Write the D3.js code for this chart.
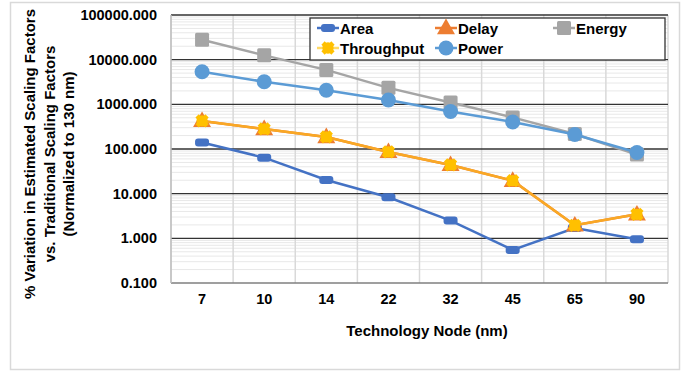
<!DOCTYPE html>
<html><head><meta charset="utf-8">
<script src="https://cdn.jsdelivr.net/npm/d3@7"></script>
<style>body{margin:0;background:#fff}svg{display:block;font-family:"Liberation Sans",Arial,sans-serif}</style>
</head><body><svg id="c" width="694" height="372"></svg>
<script>
const categories = ["7","10","14","22","32","45","65","90"];
const area       = [140, 64, 20.2, 8.3, 2.5, 0.55, 1.7, 0.95];
const delay      = [425, 281, 186, 86, 44, 19.5, 1.96, 3.45];
const energy     = [28000, 12500, 5900, 2340, 1100, 510, 217, 75];
const throughput = [425, 281, 186, 86, 44, 19.5, 1.96, 3.45];
const power      = [5350, 3200, 2060, 1250, 690, 403, 211, 83.5];
const yTicks     = [0.1, 1, 10, 100, 1000, 10000, 100000];

const svg = d3.select("#c");
const m = {l:171, r:668, t:15, b:283};
const x = d3.scaleBand().domain(categories).range([m.l, m.r]);
const y = d3.scaleLog().domain([0.1, 100000]).range([m.b, m.t]);

// outer frame
svg.append("rect").attr("x",10.5).attr("y",2.5).attr("width",669).attr("height",367)
  .attr("fill","none").attr("stroke","#d9d9d9").attr("stroke-width",1.5);

// minor gridlines
const minors = [];
for (let e=-1;e<5;e++) for (let k=2;k<10;k++) minors.push(k*Math.pow(10,e));
svg.append("g").selectAll("line").data(minors).join("line")
  .attr("x1",m.l).attr("x2",m.r).attr("y1",d=>y(d)).attr("y2",d=>y(d))
  .attr("stroke","#e8e8e8").attr("stroke-width",1);

// vertical gridlines
const vx = categories.map(c=>x(c)).concat([m.r]);
svg.append("g").selectAll("line").data(vx).join("line")
  .attr("x1",d=>d).attr("x2",d=>d).attr("y1",m.t).attr("y2",m.b)
  .attr("stroke","#d9d9d9").attr("stroke-width",1.5);

// major gridlines
svg.append("g").selectAll("line").data(yTicks).join("line")
  .attr("x1",m.l).attr("x2",m.r).attr("y1",d=>y(d)).attr("y2",d=>y(d))
  .attr("stroke",(d,i)=> (i===0? "#7f7f7f" : "#333")).attr("stroke-width",1.3);

// y axis line
svg.append("line").attr("x1",m.l).attr("x2",m.l).attr("y1",m.t).attr("y2",m.b)
  .attr("stroke","#bfbfbf").attr("stroke-width",1.5);

const FF = "'Liberation Sans',Arial,sans-serif";
// axes labels
const yAxis = d3.axisLeft(y).tickValues(yTicks).tickFormat(d3.format(".3f")).tickSize(0).tickPadding(14);
const ya = svg.append("g").attr("transform",`translate(${m.l},0)`).call(yAxis);
ya.select(".domain").remove();
ya.selectAll("text").attr("font-size",14.5).attr("font-weight","bold").attr("fill","#000")
  .attr("font-family",FF);

const xAxis = d3.axisBottom(x).tickSize(0).tickPadding(11);
const xa = svg.append("g").attr("transform",`translate(0,${m.b})`).call(xAxis);
xa.select(".domain").remove();
xa.selectAll("text").attr("font-size",14.5).attr("font-weight","bold").attr("fill","#000")
  .attr("font-family",FF);

// titles
svg.append("text").attr("x",427).attr("y",336).attr("text-anchor","middle")
  .attr("font-size",15).attr("font-weight","bold").text("Technology Node (nm)");
const yt = ["% Variation in Estimated Scaling Factors","vs. Traditional Scaling Factors","(Normalized to 130 nm)"];
yt.forEach((t,i)=>{
  svg.append("text").attr("transform",`translate(${35+i*19.5},154) rotate(-90)`)
    .attr("text-anchor","middle").attr("font-size",15).attr("font-weight","bold").text(t);
});

const cx = c => x(c) + x.bandwidth()/2;
const line = d3.line().x((d,i)=>cx(categories[i])).y(d=>y(d));

function drawMarker(g, type, px, py, color){
  if (type==="rect") {
    g.append("rect").attr("x",px-7).attr("y",py-4).attr("width",14).attr("height",8).attr("rx",3)
      .attr("fill",color);
  } else if (type==="square") {
    g.append("rect").attr("x",px-7).attr("y",py-7).attr("width",14).attr("height",14).attr("rx",1.5)
      .attr("fill",color);
  } else if (type==="circle") {
    g.append("circle").attr("cx",px).attr("cy",py).attr("r",7.5).attr("fill",color);
  } else if (type==="triangle") {
    g.append("path").attr("d",d3.symbol(d3.symbolTriangle,140)()).attr("transform",`translate(${px},${py+1})`)
      .attr("fill",color);
  } else if (type==="star") {
    g.append("path").attr("d",d3.symbol(d3.symbolCircle,100)()).attr("transform",`translate(${px},${py})`)
      .attr("fill",color);
    g.append("path").attr("d",d3.symbol(d3.symbolCross,110)()).attr("transform",`translate(${px},${py}) rotate(45)`)
      .attr("fill",color);
  }
}

const series = [
  {name:"Area", data:area, color:"#4472C4", mk:"rect", lc:"#4472C4"},
  {name:"Delay", data:delay, color:"#ED7D31", mk:"triangle", lc:"#ED7D31"},
  {name:"Energy", data:energy, color:"#A5A5A5", mk:"square", lc:"#A5A5A5"},
  {name:"Throughput", data:throughput, color:"#FFC000", mk:"star", lc:"#F9A825"},
  {name:"Power", data:power, color:"#5B9BD5", mk:"circle", lc:"#5B9BD5"}
];
series.forEach(s=>{
  const g = svg.append("g");
  g.append("path").attr("d",line(s.data)).attr("fill","none").attr("stroke",s.lc).attr("stroke-width",2.5);
  s.data.forEach((v,i)=>drawMarker(g, s.mk, cx(categories[i]), y(v), s.color));
});

// legend
const lg = svg.append("g");
lg.append("rect").attr("x",310).attr("y",18).attr("width",355).attr("height",42)
  .attr("fill","#fff").attr("stroke","#333").attr("stroke-width",1.3);
const legPos = [
  {s:0, x:317, y:28},{s:1, x:435, y:28},{s:2, x:553, y:28},
  {s:3, x:317, y:48},{s:4, x:435, y:48}
];
legPos.forEach(p=>{
  const s = series[p.s];
  const lc = s.name==="Throughput" ? "#FFD966" : s.lc;
  lg.append("line").attr("x1",p.x).attr("x2",p.x+22).attr("y1",p.y).attr("y2",p.y).attr("stroke",lc).attr("stroke-width",2.5);
  drawMarker(lg, s.mk, p.x+11, p.y, s.color);
  lg.append("text").attr("x",p.x+23).attr("y",p.y+5.5).attr("font-size",15).attr("font-weight","bold").text(s.name);
});
</script></body></html>
